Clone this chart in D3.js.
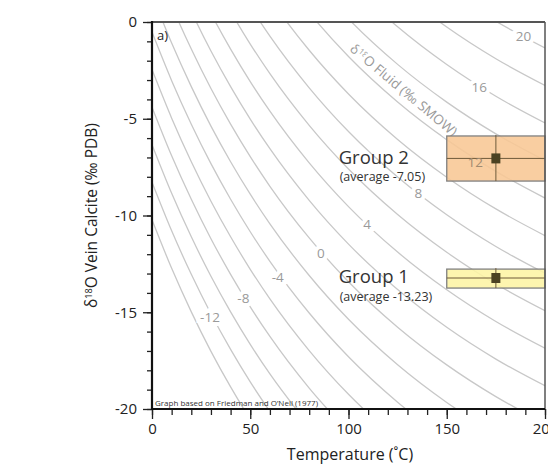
<!DOCTYPE html>
<html>
<head>
<meta charset="utf-8">
<script src="https://cdn.jsdelivr.net/npm/d3@7"></script>
<style>
  body { margin: 0; background: #fff; }
  svg { font-family: "Open Sans", sans-serif; }
</style>
</head>
<body>
<div id="chart"></div>
<script>
// temperature grid (°C) at which each fluid contour was read
const tempGrid = [0, 10, 20, 30, 40, 50, 60, 80, 100, 125, 150, 175, 200];

// δ18O fluid (‰ SMOW) of each contour
const fluidValues = [-14, -12, -10, -8, -6, -4, -2, 0, 2, 4, 6, 8, 10, 12, 14, 16, 18, 20];

// δ18O calcite (‰ PDB) of each contour on tempGrid
const calciteCurves = [
  [-10.22, -12.73, -14.98, -17.02, -18.86, -20.54, -22.07],
  [-8.28, -10.79, -13.04, -15.08, -16.92, -18.60, -20.13],
  [-6.34, -8.85, -11.10, -13.14, -14.98, -16.66, -18.19, -20.86],
  [-4.40, -6.91, -9.16, -11.20, -13.04, -14.72, -16.25, -18.92, -21.18],
  [-2.46, -4.97, -7.22, -9.26, -11.10, -12.78, -14.31, -16.98, -19.24, -21.59],
  [-0.52, -3.03, -5.28, -7.32, -9.16, -10.84, -12.37, -15.04, -17.30, -19.65, -21.60],
  [1.42, -1.09, -3.34, -5.38, -7.22, -8.90, -10.43, -13.10, -15.36, -17.71, -19.66, -21.30],
  [3.36, 0.85, -1.40, -3.44, -5.28, -6.96, -8.49, -11.16, -13.42, -15.77, -17.72, -19.36, -20.74],
  [5.30, 2.79, 0.54, -1.50, -3.34, -5.02, -6.55, -9.22, -11.48, -13.83, -15.78, -17.42, -18.80],
  [7.24, 4.73, 2.48, 0.44, -1.40, -3.08, -4.61, -7.28, -9.54, -11.89, -13.84, -15.48, -16.86],
  [9.18, 6.67, 4.42, 2.38, 0.54, -1.14, -2.67, -5.34, -7.60, -9.95, -11.90, -13.54, -14.92],
  [11.12, 8.61, 6.36, 4.32, 2.48, 0.80, -0.73, -3.40, -5.66, -8.01, -9.96, -11.60, -12.98],
  [13.06, 10.55, 8.30, 6.26, 4.42, 2.74, 1.21, -1.46, -3.72, -6.07, -8.02, -9.66, -11.04],
  [15.00, 12.49, 10.24, 8.20, 6.36, 4.68, 3.15, 0.48, -1.78, -4.13, -6.08, -7.72, -9.10],
  [16.94, 14.43, 12.18, 10.14, 8.30, 6.62, 5.09, 2.42, 0.16, -2.19, -4.14, -5.78, -7.16],
  [18.88, 16.37, 14.12, 12.08, 10.24, 8.56, 7.03, 4.36, 2.10, -0.25, -2.20, -3.84, -5.22],
  [20.82, 18.31, 16.06, 14.02, 12.18, 10.50, 8.97, 6.30, 4.04, 1.69, -0.26, -1.90, -3.28],
  [22.76, 20.25, 18.00, 15.96, 14.12, 12.44, 10.91, 8.24, 5.98, 3.63, 1.68, 0.04, -1.34]
];

// labels on contours
const labelText = ['20', '16', '12', '8', '4', '0', '-4', '-8', '-12'];
const labelTemp = [189, 166.5, 164.5, 135.5, 109.5, 86, 64, 46.5, 29.5];
const labelCalcite = [-0.72, -3.36, -7.24, -8.84, -10.44, -11.94, -13.18, -14.26, -15.24];

// vein calcite groups
const groupNames = ['Group 1', 'Group 2'];
const groupMeans = [-13.23, -7.05];
const groupTemp = [175, 175];
const groupTempRange = [[150, 200], [150, 200]];
const groupCalciteRange = [[-12.77, -13.75], [-5.89, -8.22]];
const groupFill = ['#fdf4a4', '#f8c794'];

const yTicks = [0, -5, -10, -15, -20];
const xTicks = [0, 50, 100, 150, 200];

const w = 548;
const h = 464;
const margin = { left: 152, right: 3, top: 22, bottom: 55 };

const x = d3.scaleLinear().domain([0, 200]).range([margin.left, w - margin.right]);
const y = d3.scaleLinear().domain([0, -20]).range([margin.top, h - margin.bottom]);

const svg = d3.select('#chart')
  .append('svg')
  .attr('width', w)
  .attr('height', h);

svg.append('clipPath')
  .attr('id', 'plot-clip')
  .append('rect')
  .attr('x', x(0))
  .attr('y', y(0))
  .attr('width', x(200) - x(0))
  .attr('height', y(-20) - y(0));

const plot = svg.append('g').attr('clip-path', 'url(#plot-clip)');

const line = d3.line()
  .x(function(d, i) { return x(tempGrid[i]); })
  .y(function(d) { return y(d); })
  .curve(d3.curveMonotoneX);

plot.selectAll('path.contour')
  .data(calciteCurves)
  .enter()
  .append('path')
  .attr('class', 'contour')
  .attr('d', line)
  .attr('fill', 'none')
  .attr('stroke', '#c8c8c8')
  .attr('stroke-width', 1.3);

// labels on contours, with a white gap behind
plot.selectAll('text.clabel')
  .data(labelText)
  .enter()
  .filter(function(d) { return d !== '12'; })
  .append('text')
  .attr('class', 'clabel')
  .text(function(d) { return d; })
  .attr('x', function(d) { return x(labelTemp[labelText.indexOf(d)]); })
  .attr('y', function(d) { return y(labelCalcite[labelText.indexOf(d)]); })
  .attr('text-anchor', 'middle')
  .attr('dominant-baseline', 'central')
  .attr('font-size', '13.5px')
  .attr('fill', '#9a9a9a')
  .attr('stroke', '#fff')
  .attr('stroke-width', 8)
  .attr('paint-order', 'stroke');

const fluidTitle = plot.append('text')
  .attr('transform', 'translate(' + x(128.2) + ',' + y(-3.5) + ') rotate(40)')
  .attr('text-anchor', 'middle')
  .attr('dominant-baseline', 'central')
  .attr('font-size', '13.5px')
  .attr('fill', '#9a9a9a')
  .attr('stroke', '#fff')
  .attr('stroke-width', 6)
  .attr('paint-order', 'stroke');
fluidTitle.append('tspan').text('δ');
fluidTitle.append('tspan').text('18').attr('font-size', '8px').attr('dy', '-0.4em');
fluidTitle.append('tspan').text('O Fluid (‰ SMOW)').attr('dy', '0.25em');

// group boxes
const groups = svg.selectAll('g.group')
  .data(groupNames)
  .enter()
  .append('g')
  .attr('class', 'group');

groups.append('rect')
  .attr('x', function(d, i) { return x(groupTempRange[i][0]); })
  .attr('y', function(d, i) { return y(groupCalciteRange[i][0]); })
  .attr('width', function(d, i) { return x(groupTempRange[i][1]) - x(groupTempRange[i][0]); })
  .attr('height', function(d, i) { return y(groupCalciteRange[i][1]) - y(groupCalciteRange[i][0]); })
  .attr('fill', function(d, i) { return groupFill[i]; })
  .attr('fill-opacity', 0.88)
  .attr('stroke', '#808080')
  .attr('stroke-width', 1.3);

svg.append('text')
  .text('12')
  .attr('x', x(labelTemp[2]))
  .attr('y', y(labelCalcite[2]))
  .attr('text-anchor', 'middle')
  .attr('dominant-baseline', 'central')
  .attr('font-size', '13.5px')
  .attr('fill', '#a08a70');

groups.append('line')
  .attr('x1', function(d, i) { return x(groupTempRange[i][0]); })
  .attr('x2', function(d, i) { return x(groupTempRange[i][1]); })
  .attr('y1', function(d, i) { return y(groupMeans[i]); })
  .attr('y2', function(d, i) { return y(groupMeans[i]); })
  .attr('stroke', '#6e5a3a')
  .attr('stroke-width', 1);

groups.append('line')
  .attr('x1', function(d, i) { return x(groupTemp[i]); })
  .attr('x2', function(d, i) { return x(groupTemp[i]); })
  .attr('y1', function(d, i) { return y(groupCalciteRange[i][0]) - 1; })
  .attr('y2', function(d, i) { return y(groupCalciteRange[i][1]); })
  .attr('stroke', '#6e5a3a')
  .attr('stroke-width', 1);

groups.append('rect')
  .attr('x', function(d, i) { return x(groupTemp[i]) - 4.5; })
  .attr('y', function(d, i) { return y(groupMeans[i]) - 5; })
  .attr('width', 9)
  .attr('height', 10)
  .attr('fill', '#4b4222');

groups.append('text')
  .text(function(d) { return d; })
  .attr('x', x(95))
  .attr('y', function(d, i) { return y(groupMeans[i] - 0.27); })
  .attr('font-size', '18.5px')
  .attr('fill', '#333');

groups.append('text')
  .text(function(d, i) { return '(average ' + groupMeans[i] + ')'; })
  .attr('x', x(95.5))
  .attr('y', function(d, i) { return y(groupMeans[i] - 1.18); })
  .attr('font-size', '12.5px')
  .attr('fill', '#333');

// axes
const yAxisMinor = d3.axisLeft(y).tickValues(d3.range(0, -21, -1)).tickSize(5).tickFormat('');
const yAxisMajor = d3.axisLeft(y).tickValues(yTicks).tickSize(9).tickPadding(6)
  .tickFormat(function(d) { return String(d); });
const xAxisMinor = d3.axisBottom(x).tickValues(d3.range(0, 201, 10)).tickSize(6).tickFormat('');
const xAxisMajor = d3.axisBottom(x).tickValues(xTicks).tickSize(10).tickPadding(4)
  .tickFormat(function(d) { return String(d); });

[yAxisMinor, yAxisMajor].forEach(function(ax) {
  svg.append('g')
    .attr('transform', 'translate(' + x(0) + ',0)')
    .call(ax)
    .call(function(g) { g.select('.domain').remove(); })
    .call(function(g) {
      g.selectAll('line').attr('stroke', '#222').attr('stroke-width', 1.3);
      g.selectAll('text').attr('font-size', '15px').attr('fill', '#222')
        .attr('font-family', '"Open Sans", sans-serif');
    });
});

[xAxisMinor, xAxisMajor].forEach(function(ax) {
  svg.append('g')
    .attr('transform', 'translate(0,' + y(-20) + ')')
    .call(ax)
    .call(function(g) { g.select('.domain').remove(); })
    .call(function(g) {
      g.selectAll('line').attr('stroke', '#222').attr('stroke-width', 1.3);
      g.selectAll('text').attr('font-size', '15px').attr('fill', '#222')
        .attr('font-family', '"Open Sans", sans-serif');
    });
});

// frame
svg.append('line')
  .attr('x1', x(0)).attr('x2', x(200))
  .attr('y1', y(0)).attr('y2', y(0))
  .attr('stroke', '#555').attr('stroke-width', 2);
svg.append('line')
  .attr('x1', x(200)).attr('x2', x(200))
  .attr('y1', y(0)).attr('y2', y(-20))
  .attr('stroke', '#555').attr('stroke-width', 1.5);
svg.append('line')
  .attr('x1', x(0)).attr('x2', x(200))
  .attr('y1', y(-20)).attr('y2', y(-20))
  .attr('stroke', '#111').attr('stroke-width', 2);
svg.append('line')
  .attr('x1', x(0)).attr('x2', x(0))
  .attr('y1', y(0) - 1).attr('y2', y(-20) + 1)
  .attr('stroke', '#111').attr('stroke-width', 2.2);

svg.append('text')
  .text('a)')
  .attr('x', x(0) + 5)
  .attr('y', y(0) + 18)
  .attr('font-size', '13px')
  .attr('fill', '#222');

svg.append('text')
  .text('Graph based on Friedman and O\u2019Neil (1977)')
  .attr('x', x(0) + 3)
  .attr('y', y(-20) - 3)
  .attr('font-size', '8px')
  .attr('fill', '#333');

// axis titles
const yTitle = svg.append('text')
  .attr('transform', 'translate(97,' + y(-10) + ') rotate(-90)')
  .attr('text-anchor', 'middle')
  .attr('font-size', '15.5px')
  .attr('fill', '#222');
yTitle.append('tspan').text('δ');
yTitle.append('tspan').text('18').attr('font-size', '9px').attr('dy', '-0.6em');
yTitle.append('tspan').text('O Vein Calcite (‰ PDB)').attr('dy', '0.35em');

svg.append('text')
  .text('Temperature (˚C)')
  .attr('x', 350)
  .attr('y', 460)
  .attr('text-anchor', 'middle')
  .attr('font-size', '16px')
  .attr('fill', '#222');
</script>
</body>
</html>
